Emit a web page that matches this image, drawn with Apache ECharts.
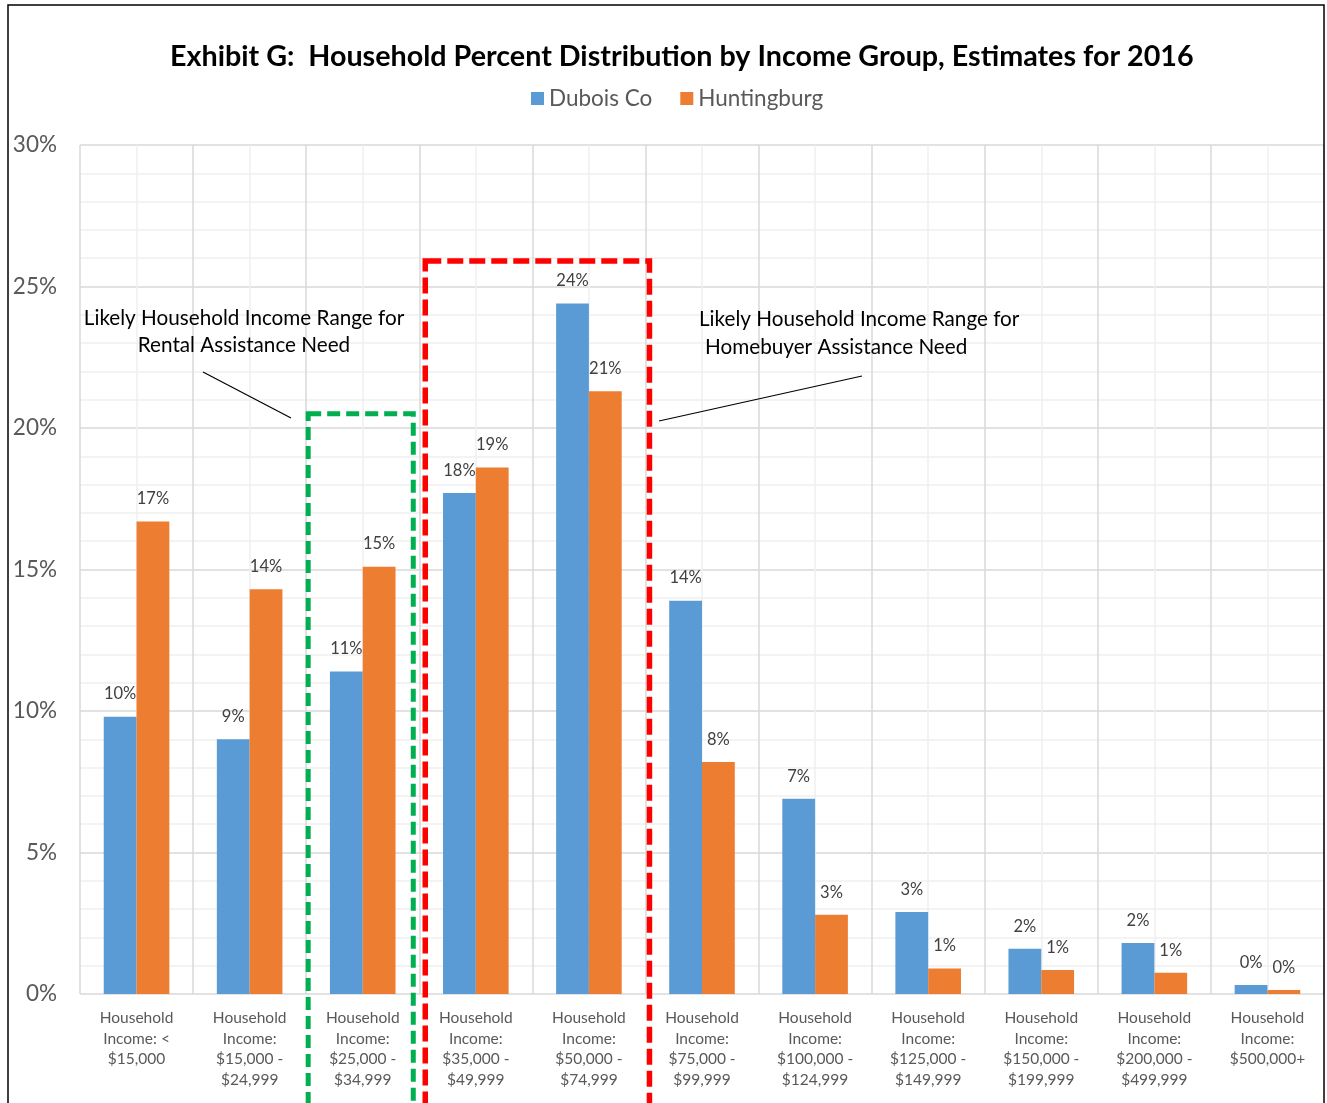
<!DOCTYPE html>
<html>
<head>
<meta charset="utf-8">
<script src="https://cdn.jsdelivr.net/npm/echarts@6/dist/echarts.min.js"></script>
<style>
  html, body { margin: 0; padding: 0; background: #fff; }
  #chart { width: 1327px; height: 1103px; }
</style>
</head>
<body>
<div id="chart"></div>
<script>
// Income groups (x categories)
const categories = [
  'Household\nIncome: <\n$15,000',
  'Household\nIncome:\n$15,000 -\n$24,999',
  'Household\nIncome:\n$25,000 -\n$34,999',
  'Household\nIncome:\n$35,000 -\n$49,999',
  'Household\nIncome:\n$50,000 -\n$74,999',
  'Household\nIncome:\n$75,000 -\n$99,999',
  'Household\nIncome:\n$100,000 -\n$124,999',
  'Household\nIncome:\n$125,000 -\n$149,999',
  'Household\nIncome:\n$150,000 -\n$199,999',
  'Household\nIncome:\n$200,000 -\n$499,999',
  'Household\nIncome:\n$500,000+'
];

// Percent of households in each income group
const duboisCo    = [9.8, 9.0, 11.4, 17.7, 24.4, 13.9, 6.9, 2.9, 1.6, 1.8, 0.32];
const huntingburg = [16.7, 14.3, 15.1, 18.6, 21.3, 8.2, 2.8, 0.9, 0.85, 0.75, 0.14];

const yTicks = { min: 0, max: 30, step: 5 };

const FONT = 'Lato';
const chart = echarts.init(document.getElementById('chart'));

const barLabel = {
  show: true,
  position: 'top',
  distance: 14,
  color: '#404040',
  fontFamily: FONT,
  fontSize: 16.5,
  formatter: p => Math.round(p.value) + '%'
};

chart.setOption({
  animation: false,
  title: {
    text: 'Exhibit G:  Household Percent Distribution by Income Group, Estimates for 2016',
    left: 165,
    top: 37,
    textStyle: { fontFamily: FONT, fontWeight: 'bold', fontSize: 28.7, color: '#000' }
  },
  legend: {
    top: 82,
    left: 526,
    itemWidth: 13,
    itemHeight: 13,
    itemGap: 28,
    icon: 'rect',
    textStyle: { fontFamily: FONT, fontSize: 22.5, color: '#595959' }
  },
  grid: { left: 80, right: 3, top: 145, bottom: 109 },
  xAxis: [
    {
      type: 'category',
      data: categories,
      axisLine: { show: false },
      axisTick: { show: false },
      splitLine: { show: false },
      axisLabel: {
        interval: 0,
        margin: 14,
        color: '#595959',
        fontFamily: FONT,
        fontSize: 15.5,
        lineHeight: 20.5
      }
    },
    {
      // value axis spanning the categories, used only for the vertical grid
      type: 'value',
      min: 0,
      max: categories.length,
      interval: 1,
      position: 'bottom',
      axisLine: { show: false },
      axisTick: { show: false },
      axisLabel: { show: false },
      splitLine: { show: true, lineStyle: { color: '#d9d9d9', width: 1.5 } },
      minorTick: { show: false, splitNumber: 2 },
      minorSplitLine: { show: true, lineStyle: { color: '#efefef', width: 1.5 } }
    }
  ],
  yAxis: {
    type: 'value',
    min: yTicks.min,
    max: yTicks.max,
    interval: yTicks.step,
    axisLine: { show: false },
    axisTick: { show: false },
    axisLabel: {
      margin: 23,
      color: '#595959',
      fontFamily: FONT,
      fontSize: 22.5,
      formatter: '{value}%'
    },
    splitLine: { show: true, lineStyle: { color: '#d9d9d9', width: 1.5 } },
    minorTick: { show: false, splitNumber: 5 },
    minorSplitLine: { show: true, lineStyle: { color: '#efefef', width: 1.5 } }
  },
  series: [
    {
      name: 'Dubois Co',
      type: 'bar',
      data: duboisCo,
      barGap: '0%',
      barCategoryGap: '42%',
      itemStyle: { color: '#5B9BD5' },
      label: barLabel
    },
    {
      name: 'Huntingburg',
      type: 'bar',
      data: huntingburg,
      barGap: '0%',
      barCategoryGap: '42%',
      itemStyle: { color: '#ED7D31' },
      label: barLabel
    }
  ]
});

// Annotation boxes and callouts placed from the axes' own scales
const px = (x, y) => chart.convertToPixel({ xAxisIndex: 1, yAxisIndex: 0 }, [x, y]);
const greenTL = px(2, 20.5);
const greenBR = px(3, 0);
const redTL = px(3, 25.9);
const redBR = px(5, 0);

const annotationText = (x, y, text, align) => ({
  type: 'text',
  x: x, y: y,
  style: {
    text: text,
    fill: '#000',
    font: '20.7px ' + FONT,
    textAlign: align,
    textVerticalAlign: 'middle'
  }
});

chart.setOption({
  graphic: [
    {
      type: 'rect',
      shape: { x: 8, y: 5, width: 1316, height: 1200 },
      style: { fill: 'none', stroke: '#000', lineWidth: 1.5 },
      z: 100
    },
    {
      type: 'rect',
      shape: {
        x: greenTL[0] + 2,
        y: greenTL[1],
        width: (greenBR[0] - 6) - (greenTL[0] + 2),
        height: 1200
      },
      style: { fill: 'none', stroke: '#00B050', lineWidth: 5, lineDash: [13, 6] },
      z: 50
    },
    {
      type: 'rect',
      shape: {
        x: redTL[0] + 6,
        y: redTL[1],
        width: (redBR[0] + 4) - (redTL[0] + 6),
        height: 1200
      },
      style: { fill: 'none', stroke: '#FF0000', lineWidth: 5.5, lineDash: [16, 6] },
      z: 50
    },
    {
      type: 'line',
      shape: { x1: 203, y1: 372, x2: 291, y2: 418 },
      style: { stroke: '#000', lineWidth: 1.2 },
      z: 50
    },
    {
      type: 'line',
      shape: { x1: 659, y1: 421, x2: 862, y2: 376 },
      style: { stroke: '#000', lineWidth: 1.2 },
      z: 50
    },
    annotationText(244, 318, 'Likely Household Income Range for', 'center'),
    annotationText(244, 345, 'Rental Assistance Need', 'center'),
    annotationText(699, 319, 'Likely Household Income Range for', 'left'),
    annotationText(705, 347, 'Homebuyer Assistance Need', 'left')
  ]
});
</script>
</body>
</html>
